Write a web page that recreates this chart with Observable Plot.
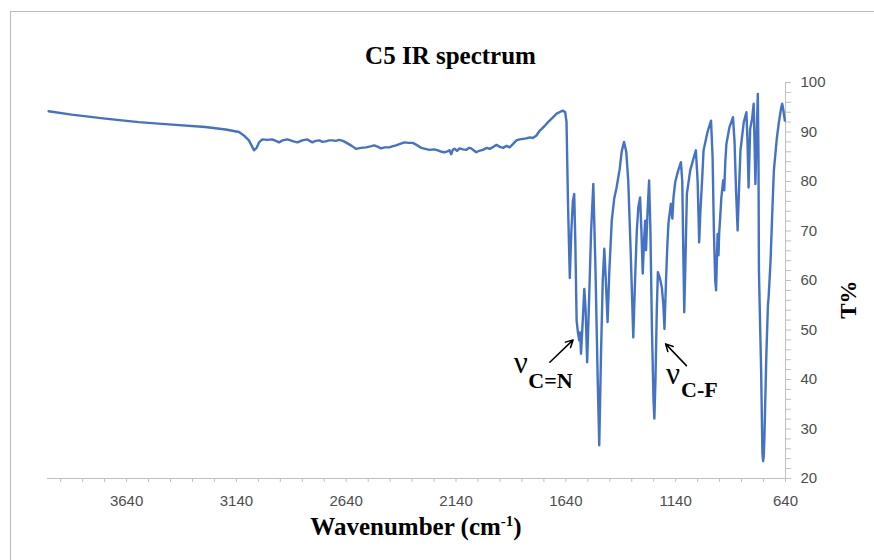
<!DOCTYPE html>
<html>
<head>
<meta charset="utf-8">
<script src="https://cdn.jsdelivr.net/npm/d3@7"></script>
<script src="https://cdn.jsdelivr.net/npm/@observablehq/plot@0.6"></script>
<style>
  html, body { margin: 0; padding: 0; background: #ffffff; overflow: hidden; }
  #wrap { position: relative; width: 874px; height: 560px; overflow: hidden; }
  #frame { position: absolute; left: 10px; top: 11px; width: 1000px; height: 1000px; border: 1px solid #bcbcbc; pointer-events: none; }
  #chart { position: absolute; left: 0; top: 0; }
</style>
</head>
<body>
<div id="wrap"><div id="frame"></div><div id="chart"></div></div>
<script>
// ---- data ----
const wavenumber = [
  3995, 3890, 3737, 3585, 3433, 3281, 3189, 3128, 3106, 3083, 3070, 3060, 3048, 3037, 3022, 3000,
  2977, 2960, 2946, 2930, 2908, 2900, 2880, 2862, 2840, 2817, 2794, 2780, 2763, 2748, 2733, 2718,
  2703, 2688, 2672, 2655, 2634, 2615, 2596, 2573, 2550, 2530, 2512, 2495, 2482, 2465, 2444, 2430,
  2413, 2395, 2375, 2355, 2337, 2320, 2299, 2280, 2261, 2240, 2223, 2205, 2193, 2180, 2170, 2162,
  2155, 2147, 2135, 2124, 2108, 2093, 2080, 2071, 2060, 2048, 2035, 2018, 2000, 1987, 1970, 1956,
  1940, 1926, 1910, 1896, 1880, 1865, 1850, 1835, 1820, 1804, 1790, 1774, 1760, 1751, 1735, 1721,
  1700, 1682, 1665, 1652, 1643, 1637, 1630, 1622, 1615, 1608, 1602, 1597, 1591, 1585, 1579, 1575,
  1571, 1563, 1556, 1550, 1543, 1535, 1525, 1515, 1505, 1495, 1488, 1480, 1472, 1465, 1458, 1450,
  1442, 1431, 1420, 1409, 1395, 1386, 1375, 1365, 1356, 1345, 1333, 1325, 1317, 1310, 1302, 1296,
  1290, 1284, 1279, 1275, 1268, 1261, 1255, 1248, 1241, 1237, 1232, 1226, 1221, 1212, 1203, 1196,
  1191, 1184, 1178, 1173, 1162, 1155, 1150, 1142, 1130, 1116, 1110, 1105, 1101, 1095, 1089, 1074,
  1060, 1048, 1040, 1033, 1028, 1020, 1013, 995, 979, 972, 966, 960, 956, 952, 949, 945,
  942, 937, 932, 924, 919, 914, 909, 895, 879, 872, 865, 858, 852, 845, 830, 818,
  813, 808, 801, 792, 785, 781, 777, 771, 766, 763, 761, 751, 745, 742, 739, 736,
  727, 720, 717, 708, 700, 693, 680, 671, 660, 655, 650, 643
];
const transmittance = [
  94.2, 93.5, 92.7, 92.0, 91.5, 91.0, 90.5, 90.0, 89.3, 88.3, 87.2, 86.3, 86.8, 87.9, 88.5, 88.4,
  88.5, 88.2, 87.9, 88.3, 88.5, 88.4, 88.1, 87.9, 88.3, 88.5, 87.9, 88.2, 88.3, 88.0, 88.1, 88.3,
  88.3, 88.2, 88.4, 88.2, 87.7, 87.2, 86.6, 86.8, 86.9, 87.1, 87.3, 87.0, 86.7, 86.9, 86.9, 87.1,
  87.3, 87.6, 87.9, 87.8, 87.8, 87.4, 86.8, 86.6, 86.4, 86.5, 86.3, 86.0, 85.9, 86.1, 86.3, 85.5,
  86.4, 86.6, 86.2, 86.7, 86.5, 86.4, 86.8, 86.7, 86.3, 85.9, 86.2, 86.4, 86.8, 86.6, 87.0, 87.4,
  87.0, 86.8, 87.2, 86.9, 87.6, 88.3, 88.5, 88.6, 88.7, 88.9, 88.8, 89.3, 90.2, 90.6, 91.3, 92.0,
  92.9, 93.7, 94.1, 94.3, 94.0, 92.0, 75.0, 60.5, 70.0, 76.0, 77.5, 68.0, 51.9, 49.5, 47.9, 49.5,
  45.2, 52.0, 58.3, 54.0, 43.5, 55.0, 70.0, 79.5, 62.0, 40.0, 26.7, 45.0, 60.0, 66.4, 60.0, 51.6,
  62.0, 72.1, 76.5, 78.8, 82.5, 86.0, 88.0, 86.0, 80.2, 66.0, 48.5, 60.0, 70.0, 74.8, 76.8, 70.0,
  61.4, 68.0, 72.1, 66.1, 74.0, 80.2, 70.0, 50.0, 36.0, 32.1, 40.0, 54.0, 61.7, 60.5, 58.6, 55.0,
  50.2, 60.0, 67.0, 71.5, 75.5, 72.5, 76.8, 79.9, 82.0, 83.9, 80.0, 65.0, 53.6, 65.0, 77.5, 82.2,
  84.5, 86.3, 80.0, 67.7, 73.5, 80.0, 86.3, 90.0, 92.3, 85.0, 70.0, 60.0, 58.0, 65.0, 69.4, 65.1,
  69.5, 73.0, 76.8, 80.2, 78.2, 84.0, 87.6, 91.0, 93.0, 88.0, 78.0, 70.1, 78.0, 86.3, 92.0, 94.0,
  88.0, 78.8, 90.6, 92.7, 95.7, 88.0, 79.5, 90.0, 97.7, 85.0, 62.0, 41.8, 25.0, 23.5, 24.5, 28.3,
  45.2, 55.0, 56.5, 64.0, 74.0, 82.2, 88.5, 91.7, 94.8, 95.7, 94.5, 92.3
];

const xMajorTicks = [3640, 3140, 2640, 2140, 1640, 1140, 640];
const xMinorTicks = d3.range(640, 4000, 100);
const yMajorTicks = [20, 30, 40, 50, 60, 70, 80, 90, 100];
const yMinorTicks = d3.range(20, 101, 2);

// annotations (in data units)
const annoSymbol = ["ν", "ν"];
const annoBond = ["C=N", "C-F"];
const annoSymbolX = [1845, 1152];
const annoSymbolY = [43.3, 41.0];
const annoBondX = [1710, 1032];
const annoBondY = [39.8, 37.8];
const arrowFromX = [1713, 1091];
const arrowFromY = [43.5, 42.8];
const arrowToX = [1607, 1186];
const arrowToY = [48.0, 47.2];

const titleText = "C5 IR spectrum";
const yLabelText = "T%";

// ---- tables built from the arrays ----
const spectrum = wavenumber.map((w, i) => ({w, t: transmittance[i]}));
const symbols = annoSymbol.map((s, i) => ({s, x: annoSymbolX[i], y: annoSymbolY[i]}));
const bonds = annoBond.map((s, i) => ({s, x: annoBondX[i], y: annoBondY[i]}));
const arrows = arrowFromX.map((x1, i) => ({x1, y1: arrowFromY[i], x2: arrowToX[i], y2: arrowToY[i]}));

const axisGray = "#bfbfbf";
const labelGray = "#4d4d4d";
const serif = "Liberation Serif, Times New Roman, serif";
const sans = "Liberation Sans, Arial, sans-serif";

const chart = Plot.plot({
  width: 874,
  height: 560,
  marginLeft: 47,
  marginRight: 89,
  marginTop: 82,
  marginBottom: 82,
  style: {background: "transparent", fontFamily: sans, overflow: "visible"},
  x: {domain: [4000, 640]},
  y: {domain: [20, 100]},
  marks: [
    Plot.axisX({
      ticks: xMinorTicks, tickSize: 4, tickPadding: 13,
      tickFormat: d => xMajorTicks.includes(d) ? String(d) : "",
      stroke: axisGray, fill: labelGray, fontSize: 15, fontFamily: sans, label: null
    }),
    Plot.axisY({
      anchor: "right", ticks: yMinorTicks, tickSize: 5, tickPadding: 10,
      tickFormat: d => yMajorTicks.includes(d) ? String(d) : "",
      stroke: axisGray, fill: labelGray, fontSize: 15, fontFamily: sans, label: null
    }),
    Plot.ruleY([20], {stroke: axisGray, strokeWidth: 1}),
    Plot.ruleX([640], {stroke: axisGray, strokeWidth: 1}),
    Plot.line(spectrum, {x: "w", y: "t", stroke: "#4472C4", strokeWidth: 2.4, strokeLinejoin: "round"}),
    Plot.text(symbols, {x: "x", y: "y", text: "s", fontSize: 31, fontFamily: serif, fill: "#000"}),
    Plot.text(bonds, {x: "x", y: "y", text: "s", fontSize: 22, fontWeight: "bold", fontFamily: serif, fill: "#000"}),
    Plot.arrow(arrows, {x1: "x1", y1: "y1", x2: "x2", y2: "y2", stroke: "#000", strokeWidth: 1.5, headLength: 8, headAngle: 55}),
    Plot.text([titleText], {frameAnchor: "top", dx: 34, dy: -36, fontSize: 25, fontWeight: "bold", fontFamily: serif, fill: "#000"}),
    Plot.text([yLabelText], {frameAnchor: "right", dx: 63, rotate: -90, fontSize: 23, fontWeight: "bold", fontFamily: serif, fill: "#000"})
  ]
});

document.getElementById("chart").appendChild(chart);

// x-axis title with superscript
const svg = d3.select(chart);
const xl = svg.append("text")
  .attr("x", 416).attr("y", 535)
  .attr("text-anchor", "middle")
  .attr("font-family", serif).attr("font-weight", "bold").attr("font-size", 25)
  .attr("fill", "#000");
xl.append("tspan").text("Wavenumber (cm");
xl.append("tspan").attr("dy", -9).attr("font-size", 15).text("-1");
xl.append("tspan").attr("dy", 9).text(")");
</script>
</body>
</html>
